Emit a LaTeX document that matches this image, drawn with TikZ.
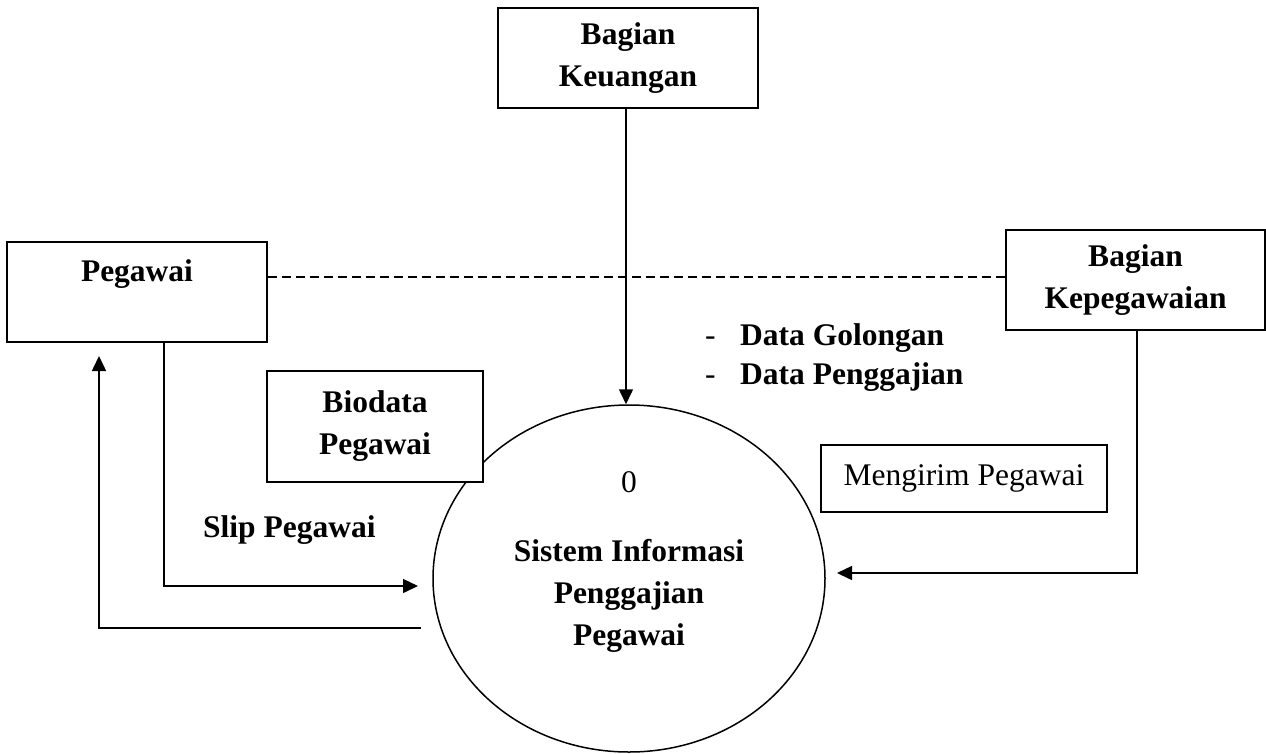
\documentclass[tikz,border=0pt]{standalone}
\usepackage{fontspec}
\setmainfont{Liberation Serif}
\usetikzlibrary{shapes.geometric,arrows.meta}
\begin{document}
\begin{tikzpicture}[x=1pt,y=-1pt,
  every node/.style={font=\fontsize{31.5}{42}\selectfont},
  entity/.style={draw,line width=1.5pt,fill=white,align=center,inner sep=0pt,font=\fontsize{31.5}{42}\selectfont\bfseries},
  procstyle/.style={draw,ellipse,line width=1.5pt,inner sep=0pt},
  notebox/.style={draw,line width=1.5pt,inner sep=0pt},
  flow/.style={line width=1.5pt,-{Triangle[length=15pt,width=14pt]}},
  plainline/.style={line width=1.5pt},
  lbl/.style={font=\fontsize{31.5}{42}\selectfont\bfseries,inner sep=0pt}]
\useasboundingbox (0,0) rectangle (1266,753);
\fill[white] (0,0) rectangle (1266,753);
% process
\node[procstyle, minimum width=392pt, minimum height=347pt] (proc) at (629,578.5) {};
% entities
\node[entity, minimum width=260pt, minimum height=100pt] (keu) at (628,58) {Bagian\\Keuangan};
\node[entity, minimum width=260pt, minimum height=100pt] (peg) at (137,292) {Pegawai\\\mbox{}};
\node[entity, minimum width=259pt, minimum height=100pt] (kep) at (1135.5,280) {Bagian\\Kepegawaian};
\node[entity, minimum width=216pt, minimum height=111pt] (bio) at (375,426.5) {Biodata\\Pegawai};
\node[notebox, minimum width=286pt, minimum height=67pt] (kirim) at (964,478.5) {Mengirim Pegawai};
% texts
\node[inner sep=0pt] (num) at (629,482.5) {0};
\node[lbl, align=center] (title) at (629,596) {Sistem Informasi\\Penggajian\\Pegawai};
\node[inner sep=0pt, anchor=base west] (d1) at (705,345) {-};
\node[lbl, anchor=base west] (dg) at (740,345) {Data Golongan};
\node[inner sep=0pt, anchor=base west] (d2) at (705,384) {-};
\node[lbl, anchor=base west] (dp) at (740,384) {Data Penggajian};
\node[lbl, anchor=base west] (slip) at (203,537) {Slip Pegawai};
% connector ends
\coordinate (slipend) at (418,586);
\coordinate (backstart) at (421,628);
\coordinate (backend) at (99,356);
\coordinate (kepend) at (837,573);
% connectors
\draw[flow] (keu.south -| 626,0) -- (proc.north -| 626,0);
\draw[plainline, dash pattern=on 9pt off 5pt] (peg.east |- 0,277) -- (kep.west |- 0,277);
\draw[flow] (peg.south -| 164,0) |- (slipend);
\draw[flow] (backstart) -| (backend);
\draw[flow] (kep.south -| 1137,0) |- (kepend);
\end{tikzpicture}
\end{document}
